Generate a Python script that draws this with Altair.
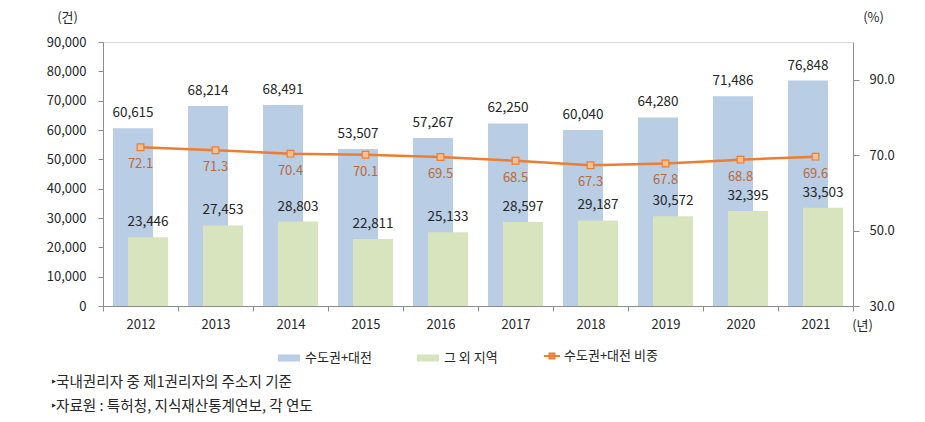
import altair as alt
import pandas as pd

years = ["2012", "2013", "2014", "2015", "2016", "2017", "2018", "2019", "2020", "2021"]
capital = [60615, 68214, 68491, 53507, 57267, 62250, 60040, 64280, 71486, 76848]
others = [23446, 27453, 28803, 22811, 25133, 28597, 29187, 30572, 32395, 33503]
share = [72.1, 71.3, 70.4, 70.1, 69.5, 68.5, 67.3, 67.8, 68.8, 69.6]
series_names = ["수도권+대전", "그 외 지역", "수도권+대전 비중"]
left_ticks = [0, 10000, 20000, 30000, 40000, 50000, 60000, 70000, 80000, 90000]
right_ticks = [30, 50, 70, 90]
notes = ["‣국내권리자 중 제1권리자의 주소지 기준", "‣자료원 : 특허청, 지식재산통계연보, 각 연도"]

FONT = "Noto Sans CJK KR"
BLUE = "#b9cde5"
GREEN = "#d7e4bd"
ORANGE = "#ed7d31"
AXIS_C = "#8c8c8c"
TXT = "#262626"

df = pd.DataFrame({
    "year": years,
    "capital": capital,
    "others": others,
    "share": share,
    "s1": series_names[0],
    "s2": series_names[1],
    "s3": series_names[2],
})

W, H = 750, 264

xscale = alt.Scale(domain=years, paddingInner=0, paddingOuter=0)
xaxis = alt.Axis(
    title="(년)", titleX=759, titleY=19, titleAlign="center", titleBaseline="middle",
    titleFont=FONT, titleFontSize=13, titleFontWeight="normal", titleColor=TXT,
    labelFont=FONT, labelFontSize=13, labelColor=TXT, labelAngle=0, labelPadding=7,
    tickBand="extent", tickSize=5, tickColor=AXIS_C, domainColor=AXIS_C, grid=False,
)
x_enc = alt.X("year:N", scale=xscale, axis=xaxis)

fill_scale = alt.Scale(domain=series_names[:2], range=[BLUE, GREEN])
bar_legend = alt.Legend(
    title=None, orient="none", legendX=175, legendY=305, direction="horizontal",
    symbolType="M-1,-0.32H1V0.32H-1Z", symbolSize=484, symbolStrokeWidth=0,
    labelFont=FONT, labelFontSize=13, labelColor=TXT, labelOffset=5, columnPadding=44,
)

left_scale = alt.Scale(domain=[0, 90000], nice=False)
left_axis = alt.Axis(
    title="(건)", titleAngle=0, titleX=-36, titleY=-25, titleAlign="center",
    titleBaseline="middle", titleFont=FONT, titleFontSize=13, titleFontWeight="normal",
    titleColor=TXT, values=left_ticks, format=",.0f", tickCount=10,
    labelFont=FONT, labelFontSize=13, labelColor=TXT, labelPadding=12,
    tickSize=5, tickColor=AXIS_C, domainColor=AXIS_C, grid=False,
)

base = alt.Chart(df)

blue_bars = base.mark_bar(xOffset=-7.5, width=40).encode(
    x=x_enc,
    y=alt.Y("capital:Q", scale=left_scale, axis=left_axis),
    fill=alt.Fill("s1:N", scale=fill_scale, legend=bar_legend),
)
green_bars = base.mark_bar(xOffset=7.5, width=40).encode(
    x=x_enc,
    y=alt.Y("others:Q", scale=left_scale, axis=left_axis),
    fill=alt.Fill("s2:N", scale=fill_scale, legend=bar_legend),
)
blue_text = base.mark_text(xOffset=-7.5, dy=-15, font=FONT, fontSize=13.5, color=TXT, baseline="middle").encode(
    x=x_enc, y=alt.Y("capital:Q", scale=left_scale, axis=left_axis), text=alt.Text("capital:Q", format=","),
)
green_text = base.mark_text(xOffset=7.5, dy=-15, font=FONT, fontSize=13.5, color=TXT, baseline="middle").encode(
    x=x_enc, y=alt.Y("others:Q", scale=left_scale, axis=left_axis), text=alt.Text("others:Q", format=","),
)

note_df = pd.DataFrame({"note": notes})
note1 = alt.Chart(note_df.iloc[[0]]).mark_text(
    font=FONT, fontSize=14.6, color=TXT, align="left", baseline="middle"
).encode(x=alt.value(-52), y=alt.value(341), text="note:N")
note2 = alt.Chart(note_df.iloc[[1]]).mark_text(
    font=FONT, fontSize=14.6, color=TXT, align="left", baseline="middle"
).encode(x=alt.value(-52), y=alt.value(365), text="note:N")

left = alt.layer(blue_bars, green_bars, blue_text, green_text)

yright_scale = alt.Scale(domain=[30, 100], nice=False)
yright_axis = alt.Axis(
    orient="right", title="(%)", titleAngle=0, titleX=20, titleY=-25, titleAlign="center",
    titleBaseline="middle", titleFont=FONT, titleFontSize=13, titleFontWeight="normal",
    titleColor=TXT, values=right_ticks, format=".1f",
    labelFont=FONT, labelFontSize=13, labelColor=TXT, labelPadding=10,
    tickSize=6, tickColor=AXIS_C, domainColor=AXIS_C, grid=False,
)
line_legend = alt.Legend(
    title=None, orient="none", legendX=440, legendY=305,
    symbolType="M-1,0H1M-0.3,-0.3H0.3V0.3H-0.3Z", symbolSize=256,
    symbolStrokeWidth=2, symbolFillColor="#f9c08f",
    labelFont=FONT, labelFontSize=13, labelColor=TXT, labelOffset=3,
)
line = base.mark_line(strokeWidth=2.5).encode(
    x=x_enc,
    y=alt.Y("share:Q", scale=yright_scale, axis=yright_axis),
    stroke=alt.Stroke("s3:N", scale=alt.Scale(domain=[series_names[2]], range=[ORANGE]), legend=line_legend),
)
points = base.mark_point(shape="square", size=45, filled=True, fill="#f9c08f", stroke=ORANGE, strokeWidth=1.2, opacity=1).encode(
    x=x_enc, y=alt.Y("share:Q", scale=yright_scale, axis=yright_axis),
)
line_text = base.mark_text(dy=17, font=FONT, fontSize=13, color="#b86a3c", baseline="middle").encode(
    x=x_enc, y=alt.Y("share:Q", scale=yright_scale, axis=yright_axis), text=alt.Text("share:Q", format=".1f"),
)
right = alt.layer(line, points, line_text)

chart = alt.layer(left, right, note1, note2).resolve_scale(y="independent").properties(
    width=W, height=H,
    autosize=alt.AutoSizeParams(type="none"),
    padding={"left": 95, "top": 34, "right": 64, "bottom": 108},
).configure_view(strokeWidth=0).configure(background="white")

chart.save("out.html", embed_options={"renderer": "svg", "actions": False})
